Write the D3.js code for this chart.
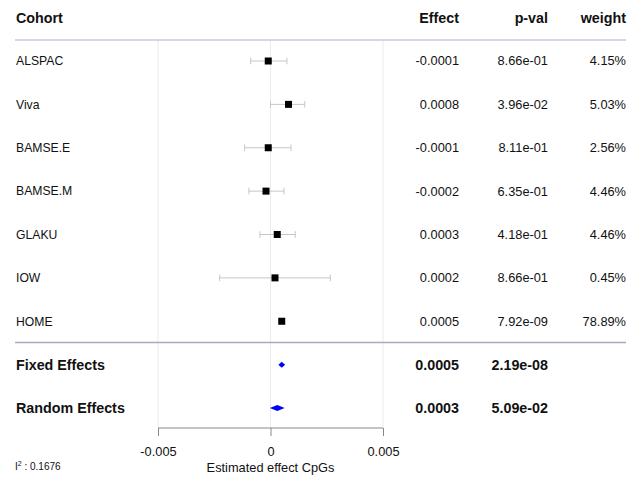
<!DOCTYPE html>
<html>
<head>
<meta charset="utf-8">
<script src="https://cdn.jsdelivr.net/npm/d3@7"></script>
<style>
  html, body { margin: 0; padding: 0; background: #fff; }
  svg { display: block; font-family: "Liberation Sans", Arial, Helvetica, sans-serif; }
</style>
</head>
<body>
<svg id="chart" width="636" height="477"></svg>
<script>
// Study-level estimates
const cohorts  = ["ALSPAC", "Viva", "BAMSE.E", "BAMSE.M", "GLAKU", "IOW", "HOME"];
const effects  = [-0.0001, 0.0008, -0.0001, -0.0002, 0.0003, 0.0002, 0.0005];
const ciLow    = [-0.00088, 0.0000, -0.00115, -0.00096, -0.00047, -0.00226, 0.00041];
const ciHigh   = [0.00073, 0.00152, 0.00091, 0.00060, 0.00110, 0.00266, 0.00059];
const pvals    = ["8.66e-01", "3.96e-02", "8.11e-01", "6.35e-01", "4.18e-01", "8.66e-01", "7.92e-09"];
const weights  = ["4.15%", "5.03%", "2.56%", "4.46%", "4.46%", "0.45%", "78.89%"];

// Pooled estimates
const summaryNames  = ["Fixed Effects", "Random Effects"];
const summaryEff    = [0.0005, 0.0003];
const summaryLow    = [0.00035, -0.00003];
const summaryHigh   = [0.00065, 0.00063];
const summaryPvals  = ["2.19e-08", "5.09e-02"];

const headers   = ["Cohort", "Effect", "p-val", "weight"];
const tickVals  = [-0.005, 0, 0.005];
const xLabel    = "Estimated effect CpGs";
const i2Value   = "0.1676";

const svg = d3.select("#chart");

const x = d3.scaleLinear().domain([-0.005, 0.005]).range([158, 383]);

// Row positions: studies then pooled rows
const rowKeys = cohorts.concat(summaryNames);
const y = d3.scalePoint().domain(rowKeys).range([61, 408]);

const colLabelX = 16, colEffX = 459, colPX = 548, colWX = 626;
const gridTop = 40, axisY = 428;

// Vertical gridlines
svg.append("g").selectAll("line").data(tickVals).join("line")
  .attr("x1", d => x(d)).attr("x2", d => x(d))
  .attr("y1", gridTop).attr("y2", axisY)
  .attr("stroke", "#ebebeb").attr("stroke-width", 1);

// Header
const hdr = svg.append("g").attr("font-weight", "bold").attr("font-size", 14.3).attr("fill", "#111");
hdr.append("text").attr("x", colLabelX).attr("y", 23).text(headers[0]);
hdr.append("text").attr("x", colEffX).attr("y", 23).attr("text-anchor", "end").text(headers[1]);
hdr.append("text").attr("x", colPX).attr("y", 23).attr("text-anchor", "end").text(headers[2]);
hdr.append("text").attr("x", colWX).attr("y", 23).attr("text-anchor", "end").text(headers[3]);

// Separator lines
svg.append("line").attr("x1", 15).attr("x2", 626).attr("y1", 40).attr("y2", 40)
  .attr("stroke", "#c9c9de").attr("stroke-width", 1.5);
svg.append("line").attr("x1", 15).attr("x2", 626).attr("y1", 342.5).attr("y2", 342.5)
  .attr("stroke", "#a9a9c6").attr("stroke-width", 1.3);

// Study rows
const studies = cohorts.map((c, i) => ({
  name: c, eff: effects[i], lo: ciLow[i], hi: ciHigh[i], p: pvals[i], w: weights[i]
}));

const rows = svg.append("g").selectAll("g").data(studies).join("g")
  .attr("transform", d => `translate(0,${y(d.name)})`);

rows.append("text").attr("x", colLabelX).attr("dy", "0.35em")
  .attr("font-size", 12.2).attr("fill", "#111").text(d => d.name);
rows.append("text").attr("x", colEffX).attr("dy", "0.35em").attr("text-anchor", "end")
  .attr("font-size", 12.8).attr("fill", "#111").text(d => d3.format(".4f")(d.eff).replace("−", "-"));
rows.append("text").attr("x", colPX).attr("dy", "0.35em").attr("text-anchor", "end")
  .attr("font-size", 12.8).attr("fill", "#111").text(d => d.p);
rows.append("text").attr("x", colWX).attr("dy", "0.35em").attr("text-anchor", "end")
  .attr("font-size", 12.8).attr("fill", "#111").text(d => d.w);

// Confidence intervals with end caps
const ciColor = "#c6c6c6";
rows.append("line").attr("x1", d => x(d.lo)).attr("x2", d => x(d.hi))
  .attr("y1", 0).attr("y2", 0).attr("stroke", ciColor).attr("stroke-width", 1);
rows.append("line").attr("x1", d => x(d.lo)).attr("x2", d => x(d.lo))
  .attr("y1", -3.3).attr("y2", 3.3).attr("stroke", ciColor).attr("stroke-width", 1);
rows.append("line").attr("x1", d => x(d.hi)).attr("x2", d => x(d.hi))
  .attr("y1", -3.3).attr("y2", 3.3).attr("stroke", ciColor).attr("stroke-width", 1);

// Point estimates
const sq = 7;
rows.append("rect").attr("x", d => x(d.eff) - sq / 2).attr("y", -sq / 2)
  .attr("width", sq).attr("height", sq).attr("fill", "#000");

// Pooled rows
const pooled = summaryNames.map((n, i) => ({
  name: n, eff: summaryEff[i], lo: summaryLow[i], hi: summaryHigh[i], p: summaryPvals[i]
}));
const prow = svg.append("g").selectAll("g").data(pooled).join("g")
  .attr("transform", d => `translate(0,${y(d.name)})`);

prow.append("text").attr("x", colLabelX).attr("dy", "0.35em").attr("font-weight", "bold")
  .attr("font-size", 14.3).attr("fill", "#111").text(d => d.name);
prow.append("text").attr("x", colEffX).attr("dy", "0.35em").attr("text-anchor", "end").attr("font-weight", "bold")
  .attr("font-size", 14.3).attr("fill", "#111").text(d => d3.format(".4f")(d.eff));
prow.append("text").attr("x", colPX).attr("dy", "0.35em").attr("text-anchor", "end").attr("font-weight", "bold")
  .attr("font-size", 14.3).attr("fill", "#111").text(d => d.p);

const dh = 3;
prow.append("path").attr("fill", "#0000ff")
  .attr("d", d => `M${x(d.lo)},0 L${x(d.eff)},${-dh} L${x(d.hi)},0 L${x(d.eff)},${dh} Z`);

// X axis
const axis = d3.axisBottom(x).tickValues(tickVals).tickSize(8).tickSizeOuter(0)
  .tickFormat(d => d === 0 ? "0" : d3.format(".3f")(d).replace("−", "-"));
const ax = svg.append("g").attr("transform", `translate(0,${axisY})`).call(axis);
ax.select(".domain").attr("stroke", "#888").attr("d", `M${x(-0.005)},0H${x(0.005)}`);
ax.selectAll(".tick line").attr("stroke", "#888");
ax.selectAll(".tick text").attr("font-size", 12.8).attr("fill", "#111")
  .attr("font-family", "Liberation Sans, Arial, sans-serif").attr("y", 19);

svg.append("text").attr("x", x(0)).attr("y", 472).attr("text-anchor", "middle")
  .attr("font-size", 12.8).attr("fill", "#111").text(xLabel);

// Heterogeneity statistic
const i2 = svg.append("text").attr("x", 15).attr("y", 470).attr("font-size", 10).attr("fill", "#111");
i2.append("tspan").text("I");
i2.append("tspan").attr("dy", -4).attr("font-size", 7).text("2");
i2.append("tspan").attr("dy", 4).text(" : " + i2Value);
</script>
</body>
</html>
